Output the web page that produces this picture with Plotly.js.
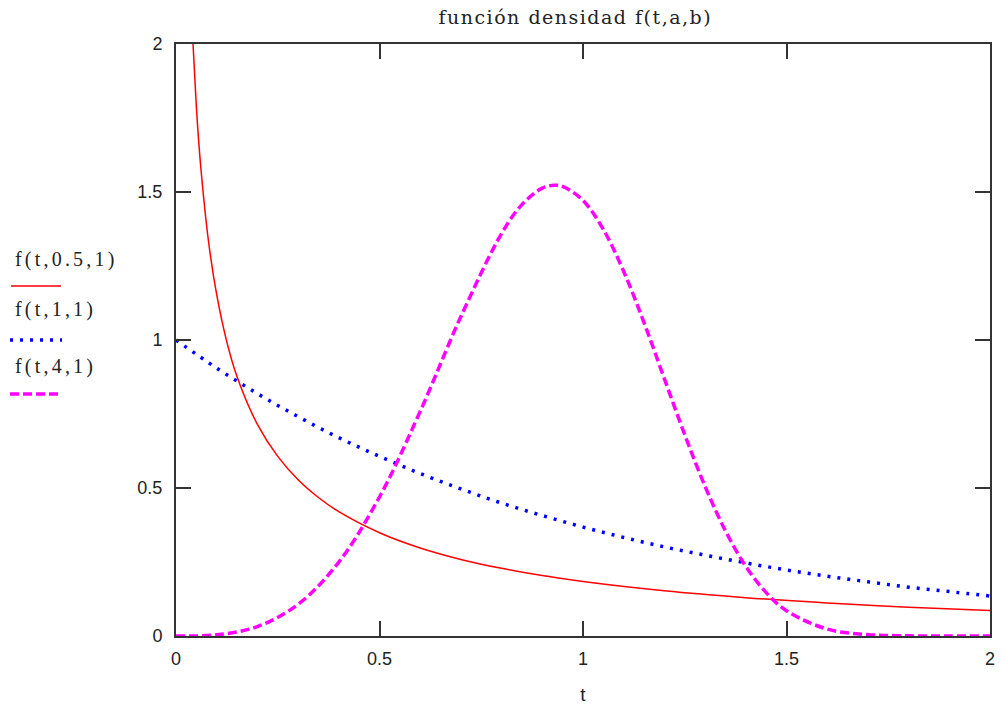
<!DOCTYPE html>
<html>
<head>
<meta charset="utf-8">
<script src="https://cdn.plot.ly/plotly-3.0.1.min.js"></script>
<style>html,body{margin:0;padding:0;background:#fff;}#chart{width:1004px;height:709px;}</style>
</head>
<body>
<div id="chart"></div>
<script>
// f(t,0.5,1) readings
const tRed = [0.03, 0.04, 0.05, 0.06, 0.08, 0.1, 0.125, 0.15, 0.2, 0.25, 0.3, 0.35, 0.4, 0.5, 0.6, 0.7, 0.8, 0.9, 1.0, 1.2, 1.4, 1.6, 1.8, 2.0];
const fRed = [2.428, 2.047, 1.788, 1.598, 1.332, 1.153, 0.993, 0.876, 0.715, 0.607, 0.528, 0.468, 0.420, 0.349, 0.2975, 0.2588, 0.2285, 0.2041, 0.1839, 0.1526, 0.1294, 0.1116, 0.0974, 0.0860];
// f(t,1,1) readings
const tBlue = [0, 0.1, 0.2, 0.3, 0.4, 0.5, 0.6, 0.7, 0.8, 0.9, 1.0, 1.1, 1.2, 1.3, 1.4, 1.5, 1.6, 1.7, 1.8, 1.9, 2.0];
const fBlue = [1, 0.905, 0.819, 0.741, 0.670, 0.607, 0.549, 0.497, 0.449, 0.407, 0.368, 0.333, 0.301, 0.273, 0.247, 0.223, 0.202, 0.183, 0.165, 0.150, 0.135];
// f(t,4,1) readings
const tMag = [0, 0.1, 0.2, 0.3, 0.4, 0.5, 0.6, 0.7, 0.8, 0.85, 0.9, 0.93, 0.95, 1.0, 1.05, 1.1, 1.15, 1.2, 1.25, 1.3, 1.35, 1.4, 1.45, 1.5, 1.6, 1.7, 1.8, 1.9, 2.0];
const fMag = [0, 0.004, 0.0319, 0.1071, 0.2495, 0.4697, 0.7589, 1.0792, 1.3597, 1.4575, 1.5131, 1.5228, 1.5190, 1.4715, 1.3735, 1.2315, 1.0585, 0.8689, 0.6798, 0.5052, 0.3552, 0.2355, 0.1467, 0.0855, 0.0233, 0.0046, 0.0006, 0, 0];

const seriesNames = ["f(t,0.5,1)", "f(t,1,1)", "f(t,4,1)"];
const tickVals = [0, 0.5, 1, 1.5, 2];
const tickText = ["0", "0.5", "1", "1.5", "2"];

const colRed = "#ff0000", colBlue = "#0000ff", colMag = "#ff00ff";

const traces = [
  {x: tRed, y: fRed, type: "scatter", mode: "lines", line: {color: colRed, width: 1.5, shape: "spline"}, name: seriesNames[0], showlegend: false},
  {x: tBlue, y: fBlue, type: "scatter", mode: "lines", line: {color: colBlue, width: 3.5, dash: "3px,7px", shape: "spline"}, name: seriesNames[1], showlegend: false},
  {x: tMag, y: fMag, type: "scatter", mode: "lines", line: {color: colMag, width: 3.5, dash: "9px,4px", shape: "spline"}, name: seriesNames[2], showlegend: false}
];

const axisCommon = {
  range: [0, 2], tickvals: tickVals, ticktext: tickText,
  showgrid: false, zeroline: false, showline: true, mirror: "ticks",
  linecolor: "#333", linewidth: 2, ticks: "inside", ticklen: 15, tickwidth: 2, tickcolor: "#333",
  tickfont: {family: "Liberation Sans, Arial, sans-serif", size: 18, color: "#222"},
  fixedrange: true
};

const legendFont = {family: "Liberation Serif, Times New Roman, serif", size: 20, color: "#222"};
const sp = (s) => '<span style="letter-spacing:3.2px">' + s + '</span>';

const layout = {
  width: 1004, height: 709,
  margin: {l: 176, r: 14, t: 44, b: 73},
  paper_bgcolor: "#fff", plot_bgcolor: "#fff",
  showlegend: false,
  title: {text: '<span style="letter-spacing:1.5px">función densidad f(t,a,b)</span>', x: 0.573, xanchor: "center", y: 0.985, yanchor: "top",
          font: {family: "DejaVu Serif, Liberation Serif, serif", size: 19, color: "#222"}},
  xaxis: Object.assign({}, axisCommon, {ticklabelstandoff: 5, title: {text: "t", standoff: 20, font: {family: "Liberation Sans, Arial, sans-serif", size: 19, color: "#222"}}}),
  yaxis: Object.assign({}, axisCommon, {ticklabelstandoff: 8}),
  annotations: [
    {xref: "paper", yref: "paper", x: -0.2002, y: 0.6368, xanchor: "left", yanchor: "middle", text: sp(seriesNames[0]), showarrow: false, font: legendFont},
    {xref: "paper", yref: "paper", x: -0.2002, y: 0.5507, xanchor: "left", yanchor: "middle", text: sp(seriesNames[1]), showarrow: false, font: legendFont},
    {xref: "paper", yref: "paper", x: -0.2002, y: 0.4544, xanchor: "left", yanchor: "middle", text: sp(seriesNames[2]), showarrow: false, font: legendFont}
  ],
  shapes: [
    {type: "line", xref: "paper", yref: "paper", x0: -0.2027, x1: -0.1413, y0: 0.5912, y1: 0.5912, line: {color: colRed, width: 1.5}},
    {type: "line", xref: "paper", yref: "paper", x0: -0.2039, x1: -0.1400, y0: 0.5, y1: 0.5, line: {color: colBlue, width: 3.5, dash: "3px,7px"}},
    {type: "line", xref: "paper", yref: "paper", x0: -0.2039, x1: -0.1400, y0: 0.4088, y1: 0.4088, line: {color: colMag, width: 3.5, dash: "9px,4px"}}
  ]
};

Plotly.newPlot("chart", traces, layout, {displayModeBar: false, staticPlot: true});
</script>
</body>
</html>
